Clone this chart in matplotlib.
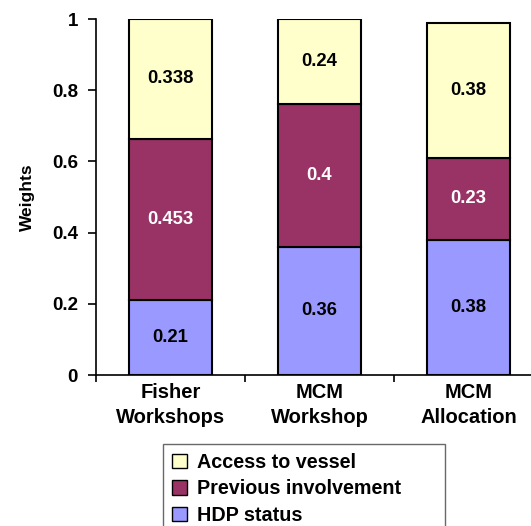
import matplotlib
matplotlib.use("Agg")
import matplotlib.pyplot as plt
import numpy as np

plt.rcParams['font.family'] = ['Liberation Sans', 'DejaVu Sans']
plt.rcParams['font.weight'] = 'bold'

categories = ["Fisher\nWorkshops", "MCM\nWorkshop", "MCM\nAllocation"]
hdp_status = [0.21, 0.36, 0.38]
previous_involvement = [0.453, 0.4, 0.23]
access_to_vessel = [0.338, 0.24, 0.38]

series = [
    ("HDP status", hdp_status, "#9999FF", "black"),
    ("Previous involvement", previous_involvement, "#993366", "white"),
    ("Access to vessel", access_to_vessel, "#FFFFCC", "black"),
]

fig = plt.figure(figsize=(5.31, 5.26), dpi=100)
ax = fig.add_axes([96 / 531, 151 / 526, 447 / 531, 356 / 526])

x = np.arange(len(categories)) + 0.5
bottom = np.zeros(len(categories))
handles = {}
for name, vals, color, tcolor in series:
    vals = np.array(vals)
    bars = ax.bar(x, vals, width=0.56, bottom=bottom, color=color,
                  edgecolor="black", linewidth=1.5, label=name)
    handles[name] = bars
    for xi, b, v in zip(x, bottom, vals):
        ax.text(xi, b + v / 2, f"{v:g}", ha="center", va="center",
                fontsize=13.3, fontweight="bold", color=tcolor)
    bottom = bottom + vals

ax.set_xlim(0, 3)
ax.set_ylim(0, 1)
ax.set_yticks([0, 0.2, 0.4, 0.6, 0.8, 1])
ax.set_yticklabels(["0", "0.2", "0.4", "0.6", "0.8", "1"])
ax.tick_params(axis="y", labelsize=13.5, length=6, width=1.2, pad=7)
ax.set_xticks([0, 1, 2, 3])
ax.set_xticklabels([])
ax.tick_params(axis="x", which="major", length=5, width=1.2, direction="out")
ax.set_xticks(x, minor=True)
ax.set_xticklabels(categories, minor=True, fontsize=14.5, fontweight="bold",
                   linespacing=1.35)
ax.tick_params(axis="x", which="minor", length=0, pad=6)
ax.set_ylabel("Weights", fontsize=12.5, fontweight="bold", labelpad=12)
for s in ["top", "right"]:
    ax.spines[s].set_visible(False)
for s in ["left", "bottom"]:
    ax.spines[s].set_linewidth(1.2)

order = ["Access to vessel", "Previous involvement", "HDP status"]
leg = fig.legend([handles[n] for n in order], order,
                 loc="upper left",
                 bbox_to_anchor=(163 / 531, 0, 282 / 531, 1 - 444 / 526),
                 mode="expand",
                 fontsize=14.2, frameon=True, fancybox=False, edgecolor="#444444",
                 handlelength=0.75, handleheight=0.75, handletextpad=0.5,
                 labelspacing=0.38, borderpad=0.45, borderaxespad=0)
leg.get_frame().set_linewidth(1.0)
for t in leg.get_texts():
    t.set_fontweight("bold")
for p in leg.get_patches():
    p.set_linewidth(1.0)

fig.savefig("out.png", dpi=100)
